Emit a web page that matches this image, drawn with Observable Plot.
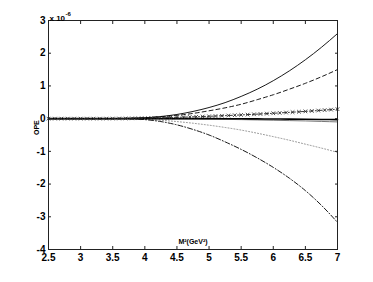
<!DOCTYPE html>
<html><head><meta charset="utf-8">
<script src="https://cdn.jsdelivr.net/npm/d3@7"></script>
<script src="https://cdn.jsdelivr.net/npm/@observablehq/plot@0.6"></script>
<style>
body{margin:0;background:#fff}
svg{font-family:"Liberation Sans",Arial,sans-serif;font-weight:bold}
</style>
</head><body><div id="chart"></div>
<script>
const m2 = [2.5,2.75,3,3.25,3.5,3.75,4,4.25,4.5,4.75,5,5.25,5.5,5.75,6,6.25,6.5,6.75,7];
const solidUpper = [0,0,0,0,0,0.004,0.024,0.064,0.128,0.22,0.34,0.49,0.68,0.9,1.16,1.46,1.8,2.18,2.6];
const dashedUpper = [0,0,0,0,0.005,0.015,0.03,0.06,0.1,0.16,0.24,0.33,0.44,0.58,0.73,0.9,1.08,1.28,1.5];
const solidZeroA = [0,0,0,0,0,0,0,0,0,0,0,-0.002,-0.005,-0.008,-0.01,-0.015,-0.02,-0.025,-0.03];
const solidZeroB = [0,0,0,0,0,0,0,-0.002,-0.005,-0.01,-0.015,-0.022,-0.03,-0.04,-0.05,-0.06,-0.07,-0.085,-0.1];
const dottedLower = [0,0,0,0,0,-0.005,-0.02,-0.05,-0.09,-0.14,-0.2,-0.27,-0.35,-0.445,-0.55,-0.66,-0.78,-0.9,-1.03];
const dashDotLower = [0,0,0,0,0,-0.005,-0.03,-0.09,-0.19,-0.33,-0.5,-0.71,-0.94,-1.2,-1.49,-1.82,-2.2,-2.65,-3.17];

const m2Fine = [2.5,2.6,2.7,2.8,2.9,3.0,3.1,3.2,3.3,3.4,3.5,3.6,3.7,3.8,3.9,4.0,4.1,4.2,4.3,4.4,4.5,4.6,4.7,4.8,4.9,5.0,5.1,5.2,5.3,5.4,5.5,5.6,5.7,5.8,5.9,6.0,6.1,6.2,6.3,6.4,6.5,6.6,6.7,6.8,6.9,7.0];
const markedSeries = [0,0,0,0,0,0,0,0,0,0.001,0.002,0.004,0.006,0.009,0.012,0.016,0.02,0.025,0.03,0.035,0.04,0.046,0.052,0.058,0.065,0.072,0.08,0.088,0.096,0.105,0.114,0.123,0.133,0.143,0.153,0.164,0.175,0.186,0.198,0.21,0.222,0.235,0.248,0.261,0.275,0.29];

const xTicks = [2.5,3,3.5,4,4.5,5,5.5,6,6.5,7];
const yTicks = [-4,-3,-2,-1,0,1,2,3];

const toRows = (xs, ys) => xs.map((x, i) => ({x, y: ys[i]}));

const styles = [
  {values: solidZeroB, stroke: "#555", strokeWidth: 0.8, dash: null},
  {values: solidZeroA, stroke: "#000", strokeWidth: 1.6, dash: null},
  {values: solidUpper, stroke: "#000", strokeWidth: 0.9, dash: null},
  {values: dashedUpper, stroke: "#000", strokeWidth: 0.9, dash: "4,3"},
  {values: dottedLower, stroke: "#777", strokeWidth: 0.8, dash: "1,2"},
  {values: dashDotLower, stroke: "#000", strokeWidth: 0.9, dash: "5,2,1,2"}
];

const lineMarks = styles.map(s => Plot.line(toRows(m2, s.values), {
  x: "x", y: "y", stroke: s.stroke, strokeWidth: s.strokeWidth,
  strokeDasharray: s.dash, curve: "monotone-x"
}));

const fmt = d => String(d);

const chart = Plot.plot({
  width: 373, height: 282,
  marginLeft: 48, marginRight: 36, marginTop: 20, marginBottom: 33,
  style: {fontFamily: "'Liberation Sans', Arial, sans-serif", fontSize: "10px", fontWeight: "bold", background: "#fff"},
  x: {domain: [2.5, 7], label: null},
  y: {domain: [-4, 3], label: null},
  marks: [
    ...lineMarks,
    Plot.line(toRows(m2Fine, markedSeries), {x: "x", y: "y", stroke: "#222", strokeWidth: 0.9, strokeDasharray: "4,2,1,2"}),
    Plot.dot(toRows(m2Fine, markedSeries), {x: "x", y: "y", symbol: "times", r: 1.8, stroke: "#222", strokeWidth: 0.8}),
    Plot.frame({stroke: "#222", strokeWidth: 1}),
    Plot.axisX(xTicks, {anchor: "bottom", tickSize: -3, text: null, label: null, stroke: "#222"}),
    Plot.axisX(xTicks, {anchor: "top", tickSize: -3, text: null, label: null, stroke: "#222"}),
    Plot.axisY(yTicks, {anchor: "left", tickSize: -3, text: null, label: null, stroke: "#222"}),
    Plot.axisY(yTicks, {anchor: "right", tickSize: -3, text: null, label: null, stroke: "#222"}),
    Plot.axisX(xTicks, {anchor: "bottom", tickSize: 0, tickPadding: 4, tickFormat: fmt, label: null, fill: "#000"}),
    Plot.axisY(yTicks, {anchor: "left", tickSize: 0, tickPadding: 3, tickFormat: fmt, label: null, fill: "#000"}),
    Plot.text(["OPE"], {frameAnchor: "left", dx: -12, rotate: -90, fontSize: 7, fill: "#000"}),
    Plot.text(["M²(GeV²)"], {frameAnchor: "bottom", dy: -6, fontSize: 7, fill: "#000"}),
    Plot.text(["x 10"], {frameAnchor: "top-left", textAnchor: "start", dx: 1, dy: -5, fontSize: 8, fill: "#000"}),
    Plot.text(["-6"], {frameAnchor: "top-left", textAnchor: "start", dx: 17, dy: -9, fontSize: 6, fill: "#000"})
  ]
});
document.getElementById("chart").appendChild(chart);
</script>
</body></html>
